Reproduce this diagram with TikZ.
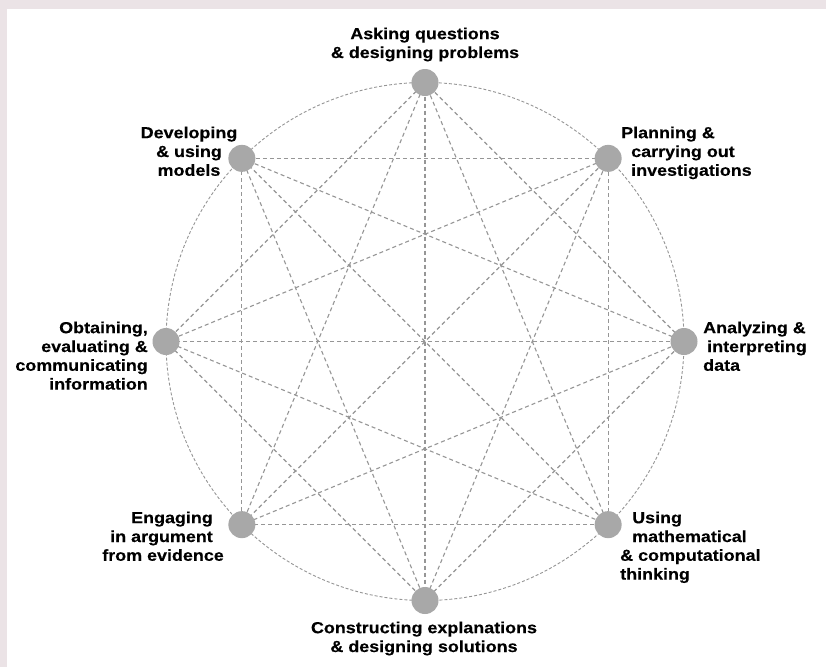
\documentclass[tikz,border=0pt]{standalone}
\usepackage{fontspec}
\setmainfont{Liberation Sans}[FakeStretch=1.12, BoldFeatures={FakeBold=0.3}]
\usepackage{tikz}
\usetikzlibrary{positioning}

\definecolor{framecol}{RGB}{235,227,230}
\definecolor{dotcol}{RGB}{168,168,168}
\definecolor{linkcol}{RGB}{150,150,150}

\begin{document}
\begin{tikzpicture}[x=1pt, y=-1pt,
            dot/.style = {circle, fill=dotcol, minimum size=27pt, inner sep=0pt},
            lbl/.style = {inner sep=0pt, font=\fontsize{16}{18.8}\selectfont\bfseries},
            link/.style = {draw=linkcol, line width=1.1pt, dash pattern=on 4pt off 3pt},
            rim/.style = {draw=linkcol, line width=0.9pt, dash pattern=on 3pt off 2pt}]

            % frame
            \fill[framecol] (0,0) rectangle (826,667);
            \fill[white] (7,9) rectangle (826,667);
            \useasboundingbox (0,0) rectangle (826,667);

            \coordinate (centre) at (425,341.5);

            % outer ring
            \draw[rim] (centre) circle (259pt);

            % Practices on the ring
            \foreach \name/\ang in {ask/90, plan/45, analyze/0, math/-45,
                                    explain/-90, argue/-135, info/180, model/135}
                \coordinate (\name-c) at ([shift={(\ang:259pt)}]centre);

            % Chords
            \foreach \a/\b in {ask/analyze, plan/math, analyze/explain, math/argue,
                               explain/info, argue/model, info/ask, model/plan,
                               ask/math, plan/explain, analyze/argue, math/info,
                               explain/model, argue/ask, info/plan, model/analyze,
                               ask/explain, plan/argue, analyze/info, math/model}
                \draw[link] (\a-c) -- (\b-c);

            % Dots
            \foreach \name in {ask, plan, analyze, math, explain, argue, info, model}
                \node (\name) [dot] at (\name-c) {};

            % Labels
            \node (ask-l) [lbl, align=center, anchor=north] at (425,27.4)
                {Asking questions\\\& designing problems};
            \node (plan-l) [lbl, align=left, anchor=north west] at (621,126.4)
                {Planning \&\\\hspace*{10pt}carrying out\\\hspace*{10pt}investigations};
            \node (analyze-l) [lbl, align=left, anchor=north west] at (703,321.4)
                {Analyzing \&\\\hspace*{4pt}interpreting\\data};
            \node (math-l) [lbl, align=left, anchor=north west] at (620,511.4)
                {\hspace*{12pt}Using\\\hspace*{12pt}mathematical\\\& computational\\thinking};
            \node (explain-l) [lbl, align=center, anchor=north] at (424,621.4)
                {Constructing explanations\\\& designing solutions};
            \node (argue-l) [lbl, align=right, anchor=north east] at (213,511.4)
                {Engaging\\in argument\\from evidence\hspace*{-11pt}};
            \node (info-l) [lbl, align=right, anchor=north east] at (148,321.4)
                {Obtaining,\\evaluating \&\hspace*{5pt}\\communicating\\information};
            \node (model-l) [lbl, align=center, anchor=north] at (189,126.4)
                {Developing\\\& using\\models};
\end{tikzpicture}
\end{document}
